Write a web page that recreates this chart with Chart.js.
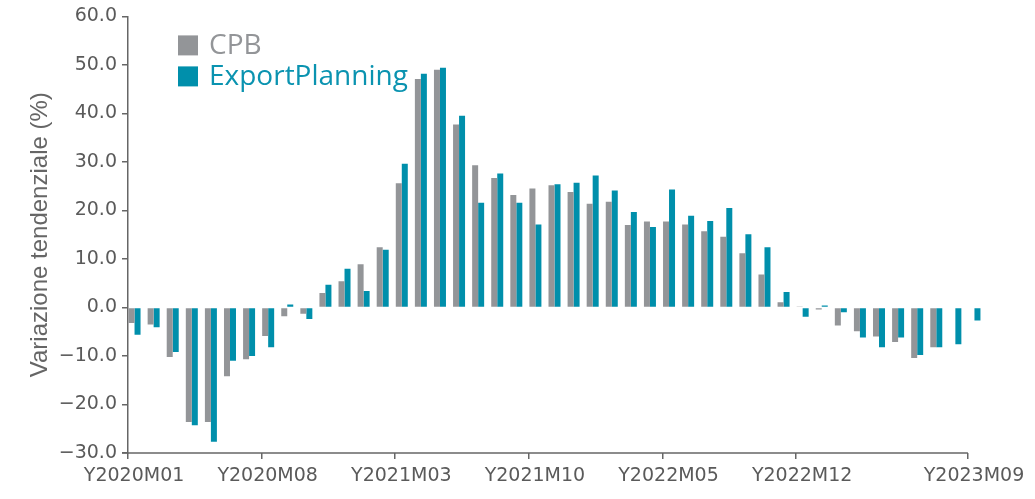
<!DOCTYPE html>
<html>
<head>
<meta charset="utf-8">
<script src="https://cdn.jsdelivr.net/npm/chart.js@4.4.1/dist/chart.umd.min.js"></script>
<style>
  html, body { margin: 0; padding: 0; background: #ffffff; }
  #wrap { width: 1035px; height: 499px; position: relative; }
</style>
</head>
<body>
<div id="wrap"><canvas id="chart"></canvas></div>
<script>
  // months Y2020M01 .. Y2023M09
  const months = [];
  for (let y = 2020; y <= 2023; y++) {
    for (let m = 1; m <= 12; m++) {
      if (y === 2023 && m > 9) break;
      months.push("Y" + y + "M" + String(m).padStart(2, "0"));
    }
  }

  const tickLabels = ["Y2020M01", "Y2020M08", "Y2021M03", "Y2021M10", "Y2022M05", "Y2022M12", "Y2023M09"];

  const cpb = [
    -3.2, -3.5, -10.2, -23.6, -23.6, -14.2, -10.7, -5.9, -1.8, -1.3, 3.0, 5.4,
    8.9, 12.4, 25.6, 47.1, 49.0, 37.7, 29.3, 26.7, 23.2, 24.5, 25.2, 23.8,
    21.4, 21.8, 17.0, 17.7, 17.7, 17.1, 15.7, 14.6, 11.2, 6.8, 1.1, 0.2,
    -0.4, -3.7, -4.9, -6.0, -7.1, -10.4, -8.2, null, null,
  ];

  const exportPlanning = [
    -5.6, -4.1, -9.2, -24.3, -27.7, -11.0, -10.0, -8.2, 0.6, -2.4, 4.7, 8.0,
    3.4, 11.9, 29.6, 48.2, 49.4, 39.5, 21.6, 27.6, 21.6, 17.1, 25.4, 25.7,
    27.2, 24.1, 19.7, 16.6, 24.3, 18.9, 17.8, 20.5, 15.1, 12.4, 3.2, -1.9,
    0.4, -1.0, -6.2, -8.2, -6.2, -9.8, -8.2, -7.6, -2.7,
  ];

  const COLORS = { cpb: "#939598", ep: "#008fab", axis: "#666666", text: "#5a5a5a" };

  // legend drawn inside the plot, top-left
  const legendPlugin = {
    id: "insideLegend",
    afterDraw(chart) {
      const { ctx, chartArea } = chart;
      const items = [
        { text: "CPB", color: COLORS.cpb, textColor: "#939598" },
        { text: "ExportPlanning", color: COLORS.ep, textColor: "#0a93b0" },
      ];
      ctx.save();
      ctx.font = "28px 'Open Sans'";
      ctx.textBaseline = "middle";
      items.forEach((it, i) => {
        const x = chartArea.left + 50;
        const y = chartArea.top + 19 + i * 31;
        ctx.fillStyle = it.color;
        ctx.fillRect(x, y, 20, 20);
        ctx.fillStyle = it.textColor;
        ctx.fillText(it.text, x + 31, y + 11);
      });
      ctx.restore();
    },
  };

  // x baseline stops at the last labelled tick
  const baselinePlugin = {
    id: "xBaseline",
    afterDraw(chart) {
      const { ctx, chartArea, scales } = chart;
      const x = scales.x;
      const half = (x.getPixelForTick(1) - x.getPixelForTick(0)) / 2;
      const end = x.getPixelForTick(months.length - 1) - half;
      ctx.save();
      ctx.strokeStyle = COLORS.axis;
      ctx.lineWidth = 1.5;
      ctx.beginPath();
      ctx.moveTo(chartArea.left - 6, chartArea.bottom);
      ctx.lineTo(end, chartArea.bottom);
      ctx.stroke();
      ctx.restore();
    },
  };

  const ctx = document.getElementById("chart").getContext("2d");
  new Chart(ctx, {
    type: "bar",
    data: {
      labels: months,
      datasets: [
        { label: "CPB", data: cpb, backgroundColor: COLORS.cpb },
        { label: "ExportPlanning", data: exportPlanning, backgroundColor: COLORS.ep },
        // empty slot so each pair sits at the left of its month
        { label: "", data: months.map(() => null), backgroundColor: "rgba(0,0,0,0)" },
      ],
    },
    options: {
      responsive: true,
      maintainAspectRatio: false,
      animation: false,
      categoryPercentage: 0.943,
      barPercentage: 1,
      layout: { padding: { left: 26, top: 16, right: 48, bottom: 0 } },
      plugins: {
        legend: { display: false },
        tooltip: { enabled: false },
      },
      scales: {
        x: {
          offset: true,
          border: { display: false },
          grid: {
            offset: true,
            drawOnChartArea: false,
            drawTicks: true,
            tickLength: 6,
            lineWidth: 1.5,
            color: (c) => (months[c.index] && tickLabels.includes(months[c.index]) ? COLORS.axis : "rgba(0,0,0,0)"),
          },
          ticks: {
            autoSkip: false,
            maxRotation: 0,
            minRotation: 0,
            padding: 6,
            labelOffset: -3.5,
            color: COLORS.text,
            font: { family: "'DejaVu Sans'", size: 19 },
            callback: (v, i) => (tickLabels.includes(months[i]) ? months[i] : ""),
          },
          afterFit: (s) => { s.height = 46; },
        },
        y: {
          min: -30,
          max: 60,
          border: { display: true, color: COLORS.axis, width: 1.5 },
          grid: { drawOnChartArea: false, drawTicks: true, tickLength: 6, color: COLORS.axis, lineWidth: 1.5 },
          ticks: {
            stepSize: 10,
            padding: 5,
            color: COLORS.text,
            font: { family: "'DejaVu Sans'", size: 19 },
            callback: (v) => v.toFixed(1).replace("-", "\u2212"),
          },
          title: {
            display: true,
            text: "Variazione tendenziale (%)",
            color: "#666666",
            font: { family: "'Liberation Sans'", size: 24 },
            padding: { top: 0, bottom: 0 },
          },
          afterFit: (s) => { s.width = 102; },
        },
      },
    },
    plugins: [legendPlugin, baselinePlugin],
  });
</script>
</body>
</html>
